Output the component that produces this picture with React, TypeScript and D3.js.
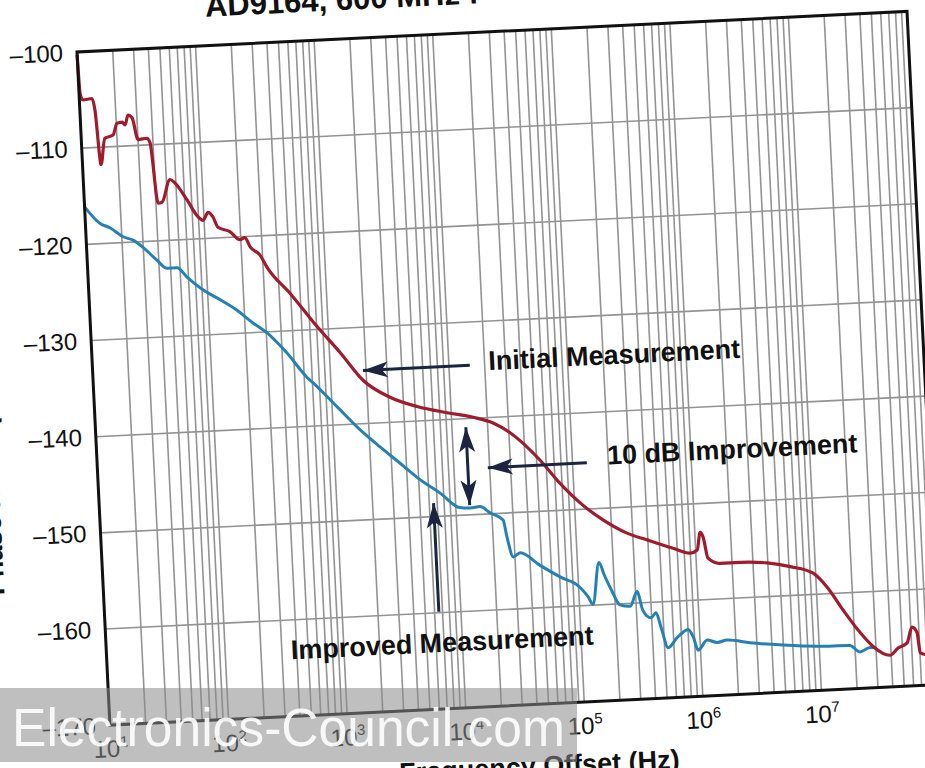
import React from 'react';
import * as d3 from 'd3';

// ---- data ----
const redFreq = [10, 10.2, 10.7, 12.8, 13.4, 14.3, 15.8, 18.6, 20.3, 22.4, 23.7, 25.3, 27.3, 30.0, 35.7, 37.8, 41.6, 45.1, 53.7, 59.0, 73.3, 89.1, 97.9, 109, 119, 130, 163, 197, 217, 238, 286, 324, 493, 807, 1230, 1870, 3100, 5190, 9230, 15200, 22300, 30700, 53500, 77100, 111000, 171000, 269000, 394000, 647000, 897000, 1030000, 1110000, 1170000, 1260000, 1580000, 2340000, 3940000, 6140000, 9530000, 12300000, 16500000, 22400000, 28400000, 39200000, 46000000, 55100000, 61500000, 67500000, 70300000, 77300000];
const redDb = [-100.3, -104.3, -105.0, -104.9, -106.1, -111.8, -109.1, -108.8, -107.6, -107.5, -107.8, -106.8, -107.1, -109.4, -109.3, -109.8, -116.1, -116.0, -113.7, -114.1, -115.9, -117.7, -118.1, -117.3, -117.8, -118.9, -119.4, -120.3, -120.1, -121.1, -122.0, -123.3, -126.1, -129.7, -132.5, -135.5, -137.4, -138.5, -139.3, -139.9, -140.6, -141.7, -144.7, -147.2, -149.3, -151.2, -152.7, -153.5, -154.5, -155.1, -154.8, -153.0, -153.5, -155.7, -156.3, -156.3, -156.5, -157.0, -157.8, -159.3, -161.8, -164.2, -165.7, -166.7, -166.0, -165.5, -163.9, -164.5, -166.6, -166.8];

const blueFreq = [10, 13.3, 16.0, 20.5, 24.8, 29.9, 38.6, 46.7, 56.6, 68.1, 91.6, 126, 174, 234, 305, 440, 632, 706, 1100, 1680, 2440, 3540, 5130, 7480, 10800, 13200, 16000, 19300, 24700, 26200, 29000, 33300, 48400, 70500, 103000, 119000, 130000, 152000, 166000, 191000, 219000, 267000, 309000, 340000, 395000, 438000, 475000, 535000, 643000, 802000, 879000, 955000, 1150000, 1390000, 1690000, 2630000, 4990000, 9600000, 18200000, 21900000, 26700000, 29500000];
const blueDb = [-116.1, -117.9, -118.4, -119.4, -119.8, -120.6, -122.0, -122.9, -122.9, -123.9, -125.3, -126.4, -127.6, -129.0, -130.1, -132.3, -134.9, -135.5, -138.1, -140.6, -142.5, -144.3, -146.1, -147.6, -149.2, -149.3, -149.2, -149.9, -150.7, -152.5, -154.6, -154.2, -155.6, -156.9, -158.1, -159.1, -159.9, -155.6, -156.9, -158.7, -160.1, -160.3, -158.8, -160.8, -161.6, -161.1, -162.6, -164.8, -163.8, -163.0, -163.8, -165.2, -164.2, -164.5, -164.3, -164.7, -165.1, -165.4, -165.5, -166.2, -165.8, -165.8];

const yTicks = [-100, -110, -120, -130, -140, -150, -160, -170];
const xTickExponents = [1, 2, 3, 4, 5, 6, 7];

const labelTexts = ['Initial Measurement', '10 dB Improvement', 'Improved Measurement'];
const labelFreq = [248000, 2230000, 6750];
const labelDb = [-134.1, -144.5, -163.1];

// arrows: [freq, dB] of tail and of tip
const arrowFrom = [[15000, -134.5], [132000, -145.2], [6520, -159.9]];
const arrowTo = [[1880, -134.5], [19300, -145.2], [6520, -148.6]];
const dblArrowFreq = 13100;
const dblArrowDb = [-140.9, -149.0];

const titleText = 'AD9164, 600 MHz f';
const xTitle = 'Frequency Offset (Hz)';
const yTitle = 'Phase Noise (dBc/Hz)';
const watermark = 'Electronics-Council.com';

const FONT = "'Liberation Sans', Arial, Helvetica, sans-serif";

export default function App() {
  const W = 831;
  const H = 674;
  const x = d3.scaleLog().domain([10, 1e8]).range([0, W]);
  const y = d3.scaleLinear().domain([-100, -170]).range([0, H]);

  const gridX: number[] = [];
  for (let e = 1; e < 8; e++) for (let k = 1; k < 10; k++) gridX.push(k * Math.pow(10, e));
  gridX.push(1e8);

  const mk = (fs: number[], ds: number[]) =>
    d3
      .line<number>()
      .x((_, i) => x(fs[i]))
      .y((_, i) => y(ds[i]))
      .curve(d3.curveMonotoneX)(fs as any) as string;

  const redPath = mk(redFreq, redDb);
  const bluePath = mk(blueFreq, blueDb);

  const navy = '#1c2440';

  const head = (tx: number, ty: number, fx: number, fy: number) => {
    const ang = Math.atan2(ty - fy, tx - fx);
    const L = 25;
    const Wd = 8;
    const notch = 6;
    const c = Math.cos(ang);
    const s = Math.sin(ang);
    const p1 = [tx - L * c + Wd * s, ty - L * s - Wd * c];
    const p2 = [tx - (L - notch) * c, ty - (L - notch) * s];
    const p3 = [tx - L * c - Wd * s, ty - L * s + Wd * c];
    return `M${tx},${ty}L${p1[0]},${p1[1]}L${p2[0]},${p2[1]}L${p3[0]},${p3[1]}Z`;
  };

  return (
    <svg
      width={925}
      height={768}
      style={{ position: 'absolute', left: 0, top: 0, background: '#fff' }}
      fontFamily={FONT}
    >
      <rect x={0} y={0} width={925} height={768} fill="#fff" />
      <g transform="translate(77,52) rotate(-2.8)">
        {/* grid */}
        {gridX.map((f, i) => (
          <line key={'gx' + i} x1={x(f)} x2={x(f)} y1={0} y2={H} stroke="#939393" strokeWidth={1.6} />
        ))}
        {yTicks.map((t) => (
          <line key={'gy' + t} x1={0} x2={W} y1={y(t)} y2={y(t)} stroke="#939393" strokeWidth={1.6} />
        ))}
        {/* curves */}
        <path d={bluePath} fill="none" stroke="#2681b3" strokeWidth={3} strokeLinejoin="round" />
        <path d={redPath} fill="none" stroke="#a01c2d" strokeWidth={3.2} strokeLinejoin="round" />
        {/* frame */}
        <rect x={0} y={0} width={W} height={H} fill="none" stroke="#111" strokeWidth={3} />
        {/* y tick labels */}
        {yTicks.map((t) => (
          <text key={'yl' + t} x={-14} y={y(t)} dy="0.35em" textAnchor="end" fontSize={24} fill="#111">
            {'\u2013' + Math.abs(t)}
          </text>
        ))}
        {/* x tick labels */}
        {xTickExponents.map((e) => (
          <text key={'xl' + e} x={x(Math.pow(10, e))} y={H + 32} textAnchor="middle" fontSize={24} fill="#111">
            <tspan>10</tspan>
            <tspan dy={-10} fontSize={15}>
              {e}
            </tspan>
          </text>
        ))}
        {/* titles */}
        <text x={130} y={-29} fontSize={31} fontWeight="bold" fill="#111">
          {titleText}
        </text>
        <text x={427} y={H + 71} textAnchor="middle" fontSize={27} fontWeight="bold" fill="#111">
          {xTitle}
        </text>
        <text
          transform={`translate(-99,400) rotate(-90)`}
          textAnchor="middle"
          fontSize={27}
          fontWeight="bold"
          fill="#111"
        >
          {yTitle}
        </text>
        {/* arrows */}
        {arrowFrom.map((a, i) => {
          const fx = x(a[0]);
          const fy = y(a[1]);
          const tx = x(arrowTo[i][0]);
          const ty = y(arrowTo[i][1]);
          return (
            <g key={'ar' + i}>
              <line x1={fx} y1={fy} x2={tx} y2={ty} stroke={navy} strokeWidth={3} />
              <path d={head(tx, ty, fx, fy)} fill={navy} />
            </g>
          );
        })}
        <g>
          <line
            x1={x(dblArrowFreq)}
            x2={x(dblArrowFreq)}
            y1={y(dblArrowDb[0])}
            y2={y(dblArrowDb[1])}
            stroke={navy}
            strokeWidth={3}
          />
          <path d={head(x(dblArrowFreq), y(dblArrowDb[0]), x(dblArrowFreq), y(dblArrowDb[1]))} fill={navy} />
          <path d={head(x(dblArrowFreq), y(dblArrowDb[1]), x(dblArrowFreq), y(dblArrowDb[0]))} fill={navy} />
        </g>
        {/* annotation labels */}
        {labelTexts.map((t, i) => (
          <text
            key={'lb' + i}
            x={x(labelFreq[i])}
            y={y(labelDb[i])}
            dy="0.35em"
            textAnchor="middle"
            fontSize={27}
            fontWeight="bold"
            fill="#111"
          >
            {t}
          </text>
        ))}
      </g>
      {/* watermark overlay */}
      <rect x={0} y={688} width={577} height={74} fill="#8a8a8a" opacity={0.55} />
      <text
        x={12}
        y={746}
        fontSize={54}
        fill="#ffffff"
        opacity={0.9}
        textLength={553}
        lengthAdjust="spacingAndGlyphs"
      >
        {watermark}
      </text>
    </svg>
  );
}
